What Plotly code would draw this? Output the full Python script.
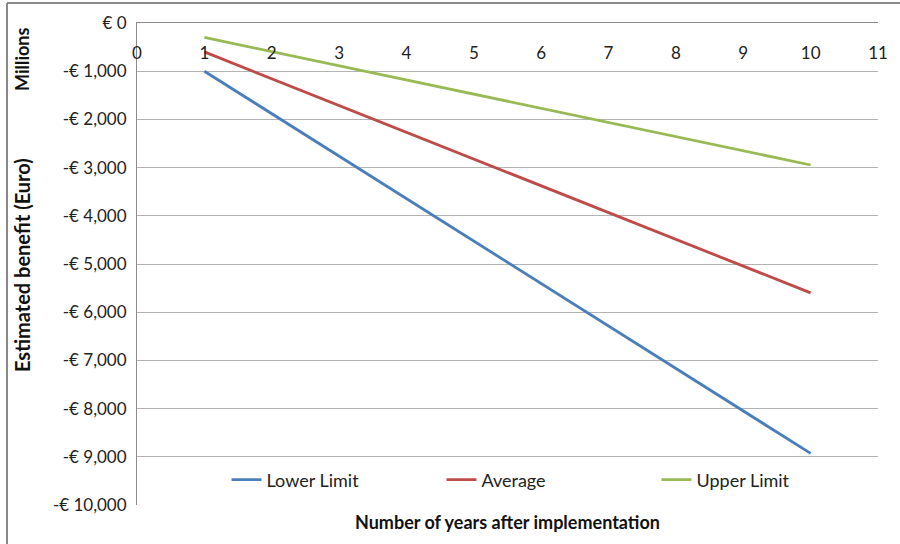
import plotly.graph_objects as go

years = [1, 2, 3, 4, 5, 6, 7, 8, 9, 10]
lower_limit = [-1000, -1881, -2762, -3643, -4524, -5405, -6286, -7167, -8048, -8930]
average = [-600, -1155, -1710, -2265, -2820, -3375, -3930, -4485, -5040, -5600]
upper_limit = [-300, -594, -888, -1182, -1476, -1770, -2064, -2358, -2652, -2946]

y_tickvals = [0, -1000, -2000, -3000, -4000, -5000, -6000, -7000, -8000, -9000, -10000]
y_ticktext = ["€ 0", "-€ 1,000", "-€ 2,000", "-€ 3,000", "-€ 4,000", "-€ 5,000",
              "-€ 6,000", "-€ 7,000", "-€ 8,000", "-€ 9,000", "-€ 10,000"]
x_tickvals = list(range(0, 12))

FONT = "Lato"

fig = go.Figure()
series = [("Lower Limit", lower_limit, "#4A7EBB"),
          ("Average", average, "#BE4B48"),
          ("Upper Limit", upper_limit, "#98B954")]
for name, vals, col in series:
    fig.add_trace(go.Scatter(x=years, y=vals, mode="lines", name=name,
                             line=dict(color=col, width=2.8)))

W, H = 900, 544
L, R, T, B = 137, 878, 23, 505
pw, ph = R - L, B - T

def px_x(x):
    return (x - L) / pw

def px_y(y):
    return (B - y) / ph

fig.update_layout(
    width=W, height=H,
    margin=dict(l=L, r=W - R, t=T, b=H - B),
    paper_bgcolor="white", plot_bgcolor="white",
    font=dict(family=FONT, size=17, color="#222"),
    showlegend=True,
    legend=dict(orientation="h", x=px_x(549), xanchor="center", y=px_y(480), yanchor="middle",
                entrywidth=170, entrywidthmode="pixels",
                font=dict(family=FONT, size=18, color="#222"), bgcolor="rgba(0,0,0,0)"),
    xaxis=dict(range=[0, 11], side="top", tickvals=x_tickvals, ticks="",
               ticklabelposition="inside", ticklabelstandoff=25, ticklabeloverflow="allow",
               showgrid=False, zeroline=False, showline=True, linecolor="#8c8c8c",
               linewidth=1, tickfont=dict(family=FONT, size=17, color="#222")),
    yaxis=dict(range=[-10000, 0], tickvals=y_tickvals, ticktext=y_ticktext, ticks="",
               ticklabelstandoff=6, ticklabeloverflow="allow",
               showgrid=True, gridcolor="#b3b3b3", gridwidth=1, zeroline=False,
               showline=True, linecolor="#8c8c8c", linewidth=1,
               tickfont=dict(family=FONT, size=17, color="#222")),
)

# frame
fig.add_shape(type="line", xref="paper", yref="paper", x0=px_x(7), x1=px_x(905),
              y0=px_y(3), y1=px_y(3), line=dict(color="#8a8a8a", width=2))
fig.add_shape(type="line", xref="paper", yref="paper", x0=px_x(7), x1=px_x(7),
              y0=px_y(3), y1=px_y(560), line=dict(color="#8a8a8a", width=2))

fig.add_annotation(text="<b>Number of years after implementation</b>", xref="paper", yref="paper",
                   x=px_x(507), y=px_y(522), showarrow=False, xanchor="center", yanchor="middle",
                   font=dict(family=FONT, size=18, color="#111"))
fig.add_annotation(text="<b>Estimated benefit (Euro)</b>", xref="paper", yref="paper",
                   x=px_x(22), y=px_y(265), showarrow=False, textangle=-90,
                   xanchor="center", yanchor="middle",
                   font=dict(family=FONT, size=20, color="#111"))
fig.add_annotation(text="<b>Millions</b>", xref="paper", yref="paper",
                   x=px_x(22), y=px_y(60), showarrow=False, textangle=-90,
                   xanchor="center", yanchor="middle",
                   font=dict(family=FONT, size=18, color="#111"))

fig.write_html("out.html", post_script="document.body.style.margin='0';",
               config={"displayModeBar": False})
